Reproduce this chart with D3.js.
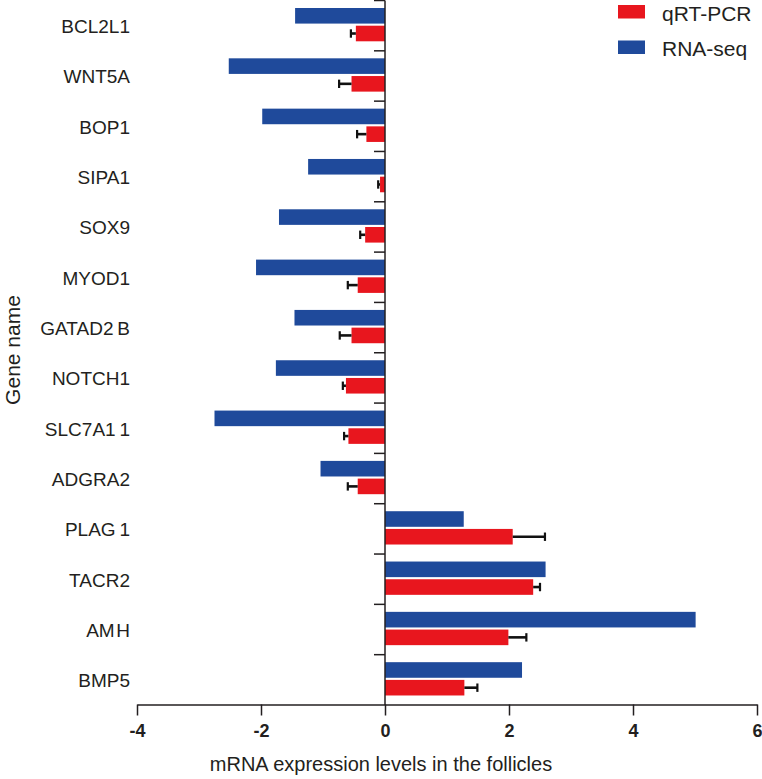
<!DOCTYPE html>
<html>
<head>
<meta charset="utf-8">
<script src="https://cdn.jsdelivr.net/npm/d3@7"></script>
<style>
  html, body { margin: 0; padding: 0; background: #fff; }
  svg { display: block; font-family: "Liberation Sans", Arial, sans-serif; }
</style>
</head>
<body>
<svg id="chart" width="762" height="779"></svg>
<script>
// ---- data ----
const genes = ["BCL2L1","WNT5A","BOP1","SIPA1","SOX9","MYOD1","GATAD2B","NOTCH1","SLC7A11","ADGRA2","PLAG1","TACR2","AMH","BMP5"];
const geneLabels = ["BCL2L1","WNT5A","BOP1","SIPA1","SOX9","MYOD1","GATAD2\u2009B","NOTCH1","SLC7A1\u20091","ADGRA2","PLAG\u20091","TACR2","AM\u200AH","BMP5"];
const rnaSeq = [-1.45,-2.52,-1.98,-1.24,-1.71,-2.08,-1.46,-1.76,-2.75,-1.04,1.27,2.59,5.01,2.21];
const qpcr   = [-0.47,-0.54,-0.30,-0.08,-0.32,-0.44,-0.54,-0.63,-0.59,-0.44,2.06,2.39,1.99,1.28];
const qpcrSD = [0.08,0.20,0.15,0.03,0.08,0.16,0.19,0.05,0.07,0.16,0.52,0.11,0.29,0.21];
const xTicks = [-4,-2,0,2,4,6];
const seriesNames = ["qRT-PCR","RNA-seq"];
const seriesColors = {"qRT-PCR":"#e8161e","RNA-seq":"#1f4a9b"};

const svg = d3.select("#chart");
const ink = "#231f20";

const x = d3.scaleLinear().domain([-4, 6]).range([137, 757]);
const y = d3.scaleBand().domain(genes).range([0.5, 705]).padding(0);
const sub = d3.scaleBand().domain(["RNA-seq","qRT-PCR"]).range([7.5, 40.8]).paddingInner(0.12);

const rows = genes.map((g, i) => ({gene: g, label: geneLabels[i], rna: rnaSeq[i], q: qpcr[i], sd: qpcrSD[i]}));

// bars
const g = svg.append("g");
g.selectAll("rect.rna").data(rows).join("rect")
  .attr("class", "rna")
  .attr("x", d => x(Math.min(0, d.rna)))
  .attr("width", d => Math.abs(x(d.rna) - x(0)))
  .attr("y", d => y(d.gene) + sub("RNA-seq"))
  .attr("height", sub.bandwidth())
  .attr("fill", seriesColors["RNA-seq"]);

g.selectAll("rect.q").data(rows).join("rect")
  .attr("class", "q")
  .attr("x", d => x(Math.min(0, d.q)))
  .attr("width", d => Math.abs(x(d.q) - x(0)))
  .attr("y", d => y(d.gene) + sub("qRT-PCR"))
  .attr("height", sub.bandwidth())
  .attr("fill", seriesColors["qRT-PCR"]);

// error bars
const eb = svg.append("g").attr("stroke", "#111");
rows.forEach(d => {
  const cy = y(d.gene) + sub("qRT-PCR") + sub.bandwidth() / 2;
  const end = d.q < 0 ? d.q - d.sd : d.q + d.sd;
  eb.append("line").attr("x1", x(d.q)).attr("x2", x(end)).attr("y1", cy).attr("y2", cy).attr("stroke-width", 2.6);
  eb.append("line").attr("x1", x(end)).attr("x2", x(end)).attr("y1", cy - 4.2).attr("y2", cy + 4.2).attr("stroke-width", 2.2);
});

// y axis line and ticks at band boundaries
const yAxis = svg.append("g").attr("stroke", ink).attr("stroke-width", 1.5);
yAxis.append("line").attr("x1", x(0)).attr("x2", x(0)).attr("y1", y.range()[0]).attr("y2", y.range()[1]);
genes.forEach(gn => {
  yAxis.append("line").attr("x1", x(0) - 11).attr("x2", x(0)).attr("y1", y(gn)).attr("y2", y(gn));
});

// gene labels
svg.append("g").selectAll("text").data(rows).join("text")
  .attr("x", 130)
  .attr("y", d => y(d.gene) + y.bandwidth() / 2 + 7.5)
  .attr("text-anchor", "end")
  .attr("font-size", 19)
  .attr("fill", ink)
  .text(d => d.label);

// x axis
const xAxis = svg.append("g")
  .attr("transform", `translate(0,${y.range()[1] - 0.5})`)
  .call(d3.axisBottom(x).tickValues(xTicks).tickSize(11).tickSizeOuter(0).tickFormat(d3.format("d")));
xAxis.select(".domain").attr("stroke", ink).attr("stroke-width", 1.5);
xAxis.selectAll(".tick line").attr("stroke", ink).attr("stroke-width", 1.5);
xAxis.selectAll(".tick text")
  .attr("font-family", "'Liberation Sans', Arial, sans-serif")
  .attr("font-size", 18).attr("font-weight", "bold").attr("fill", ink)
  .attr("dy", null).attr("y", 32)
  .text(d => d < 0 ? "-" + Math.abs(d) : d);

// axis titles
svg.append("text")
  .attr("x", 381).attr("y", 771)
  .attr("text-anchor", "middle")
  .attr("font-size", 20).attr("fill", ink)
  .text("mRNA expression levels in the follicles");

svg.append("text")
  .attr("transform", "translate(20,350) rotate(-90)")
  .attr("text-anchor", "middle")
  .attr("font-size", 21).attr("fill", ink)
  .text("Gene name");

// legend
const legend = svg.append("g");
seriesNames.forEach((s, i) => {
  const ly = 5 + i * 35.5;
  legend.append("rect").attr("x", 618).attr("y", ly).attr("width", 27).attr("height", 13.5).attr("fill", seriesColors[s]);
  legend.append("text").attr("x", 662).attr("y", ly + 15.5)
    .attr("font-size", 21).attr("fill", ink).text(s);
});
</script>
</body>
</html>
